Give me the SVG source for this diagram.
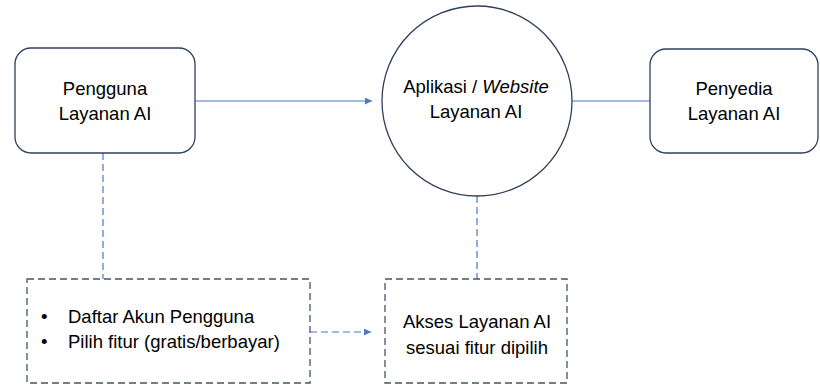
<svg xmlns="http://www.w3.org/2000/svg" width="820" height="385" viewBox="0 0 820 385">
<style>
.node{fill:#fff;stroke:#2f3f5c;stroke-width:1.3}
.dnode{fill:#fff;stroke:#44546a;stroke-width:1.3;stroke-dasharray:7 4}
.t{font-family:"Liberation Sans","Open Sans",sans-serif;font-size:18.5px;fill:#000}
.c{stroke:#4a78c8;stroke-width:1.2;fill:none}
.d{stroke-dasharray:7 4}
</style>
<defs>
<marker id="ah" viewBox="0 0 10 10" refX="10" refY="5" markerWidth="7" markerHeight="7" orient="auto" markerUnits="userSpaceOnUse"><path d="M0,0 L10,5 L0,10 z" fill="#4a78c8"/></marker>
</defs>
<g id="connectors">
<line class="c" x1="195" y1="101" x2="372" y2="101" marker-end="url(#ah)"/>
<line class="c" x1="572" y1="101" x2="650" y2="101"/>
<line class="c d" x1="103" y1="153" x2="103" y2="279"/>
<line class="c d" x1="477" y1="196" x2="477" y2="279"/>
<line class="c d" x1="310" y1="332" x2="371" y2="332" marker-end="url(#ah)"/>
</g>
<g id="pengguna">
<rect class="node" x="15" y="48" width="180" height="105" rx="16"/>
<text class="t" x="105" y="95" text-anchor="middle">Pengguna</text>
<text class="t" x="105" y="120" text-anchor="middle">Layanan AI</text>
</g>
<g id="aplikasi">
<circle class="node" cx="477" cy="101" r="95"/>
<text class="t" x="476" y="93" text-anchor="middle">Aplikasi / <tspan font-style="italic">Website</tspan></text>
<text class="t" x="476" y="118" text-anchor="middle">Layanan AI</text>
</g>
<g id="penyedia">
<rect class="node" x="650" y="49" width="168" height="104" rx="16"/>
<text class="t" x="734" y="95" text-anchor="middle">Penyedia</text>
<text class="t" x="734" y="120" text-anchor="middle">Layanan AI</text>
</g>
<g id="daftar">
<rect class="dnode" x="27" y="279" width="283" height="104"/>
<text class="t" x="41" y="323">•</text>
<text class="t" x="68" y="323">Daftar Akun Pengguna</text>
<text class="t" x="41" y="348">•</text>
<text class="t" x="68" y="348">Pilih fitur (gratis/berbayar)</text>
</g>
<g id="akses">
<rect class="dnode" x="385" y="279" width="182" height="104"/>
<text class="t" x="477" y="328" text-anchor="middle">Akses Layanan AI</text>
<text class="t" x="477" y="354" text-anchor="middle">sesuai fitur dipilih</text>
</g>
</svg>
